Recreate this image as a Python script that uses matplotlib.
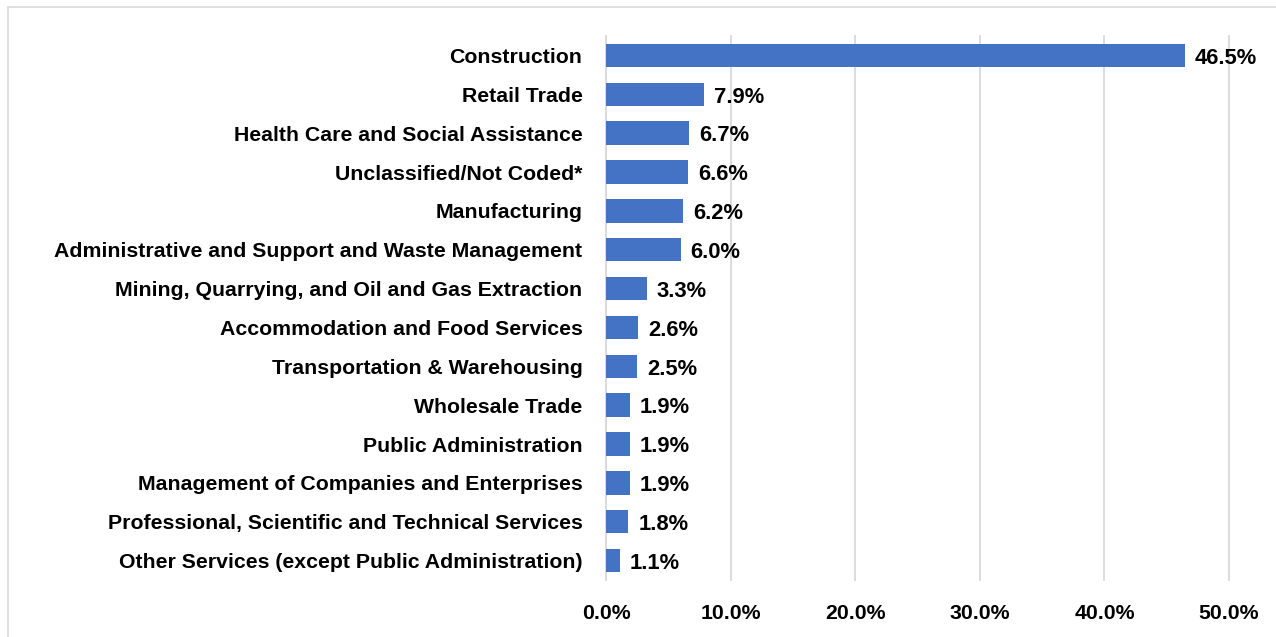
import matplotlib.pyplot as plt
from matplotlib.patches import Rectangle
from matplotlib.ticker import FuncFormatter

# Share of cases by industry
industries = [
    "Construction",
    "Retail Trade",
    "Health Care and Social Assistance",
    "Unclassified/Not Coded*",
    "Manufacturing",
    "Administrative and Support and Waste Management",
    "Mining, Quarrying, and Oil and Gas Extraction",
    "Accommodation and Food Services",
    "Transportation & Warehousing",
    "Wholesale Trade",
    "Public Administration",
    "Management of Companies and Enterprises",
    "Professional, Scientific and Technical Services",
    "Other Services (except Public Administration)",
]
shares = [46.5, 7.9, 6.7, 6.6, 6.2, 6.0, 3.3, 2.6, 2.5, 1.9, 1.9, 1.9, 1.8, 1.1]
x_ticks = [0, 10, 20, 30, 40, 50]

BAR_COLOR = "#4472C4"
GRID_COLOR = "#D9D9D9"
FONT = "Liberation Sans"
FS = 15.3

W, H = 1276, 637
fig = plt.figure(figsize=(W / 100, H / 100), dpi=100)

# outer chart frame
fig.patches.append(Rectangle((8 / W, -0.1), 1.2, 1 - 7 / H + 0.1,
                             transform=fig.transFigure, fill=False,
                             edgecolor=GRID_COLOR, linewidth=1.2))

ax = fig.add_axes([606 / W, (H - 580) / H, (1229 - 606) / W, 544 / H])

pos = list(range(len(industries)))
ax.barh(pos, shares, height=0.6, color=BAR_COLOR, zorder=3)

for p, v in zip(pos, shares):
    ax.annotate(f"{v:.1f}%", (v, p), xytext=(7, -2), textcoords="offset points",
                va="center", ha="left", fontsize=FS + 0.5, fontweight="bold",
                family=FONT, color="black")

ax.set_ylim(len(industries) - 0.5, -0.5)
ax.set_xlim(0, 50)
ax.set_yticks(pos)
ax.set_yticklabels(industries, fontsize=FS, fontweight="bold", family=FONT)
ax.set_xticks(x_ticks)
ax.xaxis.set_major_formatter(FuncFormatter(lambda v, _: f"{v:.1f}%"))
for lab in ax.get_xticklabels():
    lab.set_fontsize(FS)
    lab.set_fontweight("bold")
    lab.set_family(FONT)
ax.tick_params(axis="y", length=0, pad=17)
ax.tick_params(axis="x", length=0, pad=17)

ax.grid(axis="x", color=GRID_COLOR, linewidth=1.3, zorder=0)
for g in ax.get_xgridlines():
    g.set_clip_on(False)
for s in ax.spines.values():
    s.set_visible(False)
ax.axvline(0, color=GRID_COLOR, linewidth=1.3, zorder=1)

fig.savefig("out.png", dpi=100)
